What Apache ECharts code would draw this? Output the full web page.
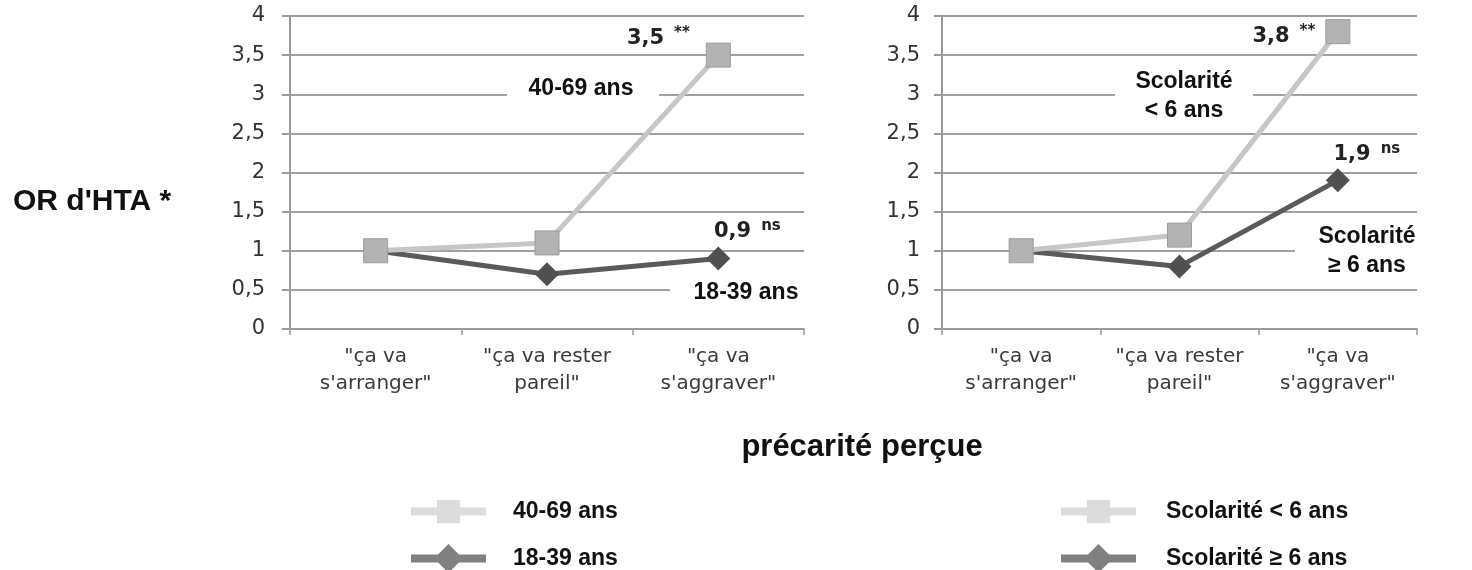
<!DOCTYPE html>
<html><head><meta charset="utf-8">
<script src="https://cdn.jsdelivr.net/npm/echarts@6/dist/echarts.min.js"></script>
<style>html,body{margin:0;padding:0;background:#fff}#c{width:1472px;height:570px}</style>
</head><body><div id="c"></div>
<script>
const categories = ['"ça va\ns\'arranger"', '"ça va rester\npareil"', '"ça va\ns\'aggraver"'];
const age40_69 = [1, 1.1, 3.5];
const age18_39 = [1, 0.7, 0.9];
const scolLt6 = [1, 1.2, 3.8];
const scolGe6 = [1, 0.8, 1.9];
const names = ['40-69 ans', '18-39 ans', 'Scolarité < 6 ans', 'Scolarité ≥ 6 ans'];
const notes = ['**', 'ns', '**', 'ns'];
const yTitle = "OR d'HTA *";
const xTitle = 'précarité perçue';

const TICK_FONT = 'DejaVu Sans';
const BOLD = 'Liberation Sans, Arial, sans-serif';
const fmt = v => String(v).replace('.', ',');

function mkAxisX(gi) {
  return {
    type: 'category', gridIndex: gi, data: categories, boundaryGap: true,
    axisLine: {show: true, lineStyle: {color: '#9a9a9a', width: 2}},
    axisTick: {show: true, length: 6, lineStyle: {color: '#9a9a9a', width: 1.5}},
    axisLabel: {fontFamily: TICK_FONT, fontSize: 20, color: '#3a3a3a', lineHeight: 27, margin: 14, interval: 0}
  };
}
function mkAxisY(gi, margin) {
  return {
    type: 'value', gridIndex: gi, min: 0, max: 4, interval: 0.5,
    axisLine: {show: true, lineStyle: {color: '#9a9a9a', width: 2}},
    axisTick: {show: true, length: 8, lineStyle: {color: '#9a9a9a', width: 2}},
    splitLine: {show: true, lineStyle: {color: '#a0a0a0', width: 2}},
    axisLabel: {fontFamily: TICK_FONT, fontSize: 21, color: '#333', margin: margin, formatter: v => fmt(v)}
  };
}
function mkLabel(i, v, offset) {
  return {
    show: true, position: 'inside', offset: offset,
    formatter: '{v|' + fmt(v) + '}{s|' + notes[i] + '}',
    rich: {
      v: {fontFamily: TICK_FONT, fontWeight: 'bold', fontSize: 21, color: '#222', lineHeight: 26},
      s: {fontFamily: TICK_FONT, fontWeight: 'bold', fontSize: 15, color: '#222', lineHeight: 26, verticalAlign: 'top', padding: [0, 0, 8, 10]}
    }
  };
}
function mkData(vals, i, offset) {
  return vals.map((v, k) => k === vals.length - 1 ? {value: v, label: mkLabel(i, v, offset)} : v);
}
function light(name, vals, gi, i, offset) {
  return {
    name: name, type: 'line', xAxisIndex: gi, yAxisIndex: gi, z: 4,
    data: mkData(vals, i, offset),
    symbol: 'rect', symbolSize: 24,
    lineStyle: {color: '#c6c6c6', width: 5},
    itemStyle: {color: '#b3b3b3', borderColor: '#9c9c9c', borderWidth: 1},
    emphasis: {disabled: true}, animation: false
  };
}
function dark(name, vals, gi, i, offset) {
  return {
    name: name, type: 'line', xAxisIndex: gi, yAxisIndex: gi, z: 3,
    data: mkData(vals, i, offset),
    symbol: 'diamond', symbolSize: [24, 24],
    lineStyle: {color: '#5a5a5a', width: 5},
    itemStyle: {color: '#505050'},
    emphasis: {disabled: true}, animation: false
  };
}
function legendItem(left, top, name, color, ih, pad) {
  return {
    left: left, top: top, orient: 'vertical', itemWidth: 75, itemHeight: ih,
    selectedMode: false,
    textStyle: {fontFamily: BOLD, fontWeight: 'bold', fontSize: 23, color: '#111', padding: [0, 0, 0, pad]},
    data: [{name: name, itemStyle: {color: color, borderWidth: 0}, lineStyle: {color: color, width: 8}}]
  };
}
function box(x, y, w, h, text, cx, cy) {
  return [
    {type: 'rect', z: 2, shape: {x: x, y: y, width: w, height: h}, style: {fill: '#fff'}, silent: true},
    {type: 'text', z: 10, x: cx, y: cy, style: {text: text, font: 'bold 23px ' + BOLD, fill: '#111', align: 'center', verticalAlign: 'middle', lineHeight: 29}, silent: true}
  ];
}

const chart = echarts.init(document.getElementById('c'), null, {renderer: 'canvas'});
chart.setOption({
  backgroundColor: '#fff',
  animation: false,
  grid: [
    {left: 290, top: 16, width: 514, height: 313},
    {left: 942, top: 16, width: 475, height: 313}
  ],
  xAxis: [mkAxisX(0), mkAxisX(1)],
  yAxis: [mkAxisY(0, 25), mkAxisY(1, 22)],
  legend: [
    legendItem(402, 495, names[0], '#dcdcdc', 29, 22),
    legendItem(402, 539, names[1], '#808080', 36, 22),
    legendItem(1052, 495, names[2], '#dcdcdc', 29, 25),
    legendItem(1052, 539, names[3], '#808080', 36, 25)
  ],
  series: [
    dark(names[1], age18_39, 0, 1, [29, -27]),
    light(names[0], age40_69, 0, 0, [-60, -17]),
    dark(names[3], scolGe6, 1, 3, [29, -26]),
    light(names[2], scolLt6, 1, 2, [-54, 5])
  ],
  graphic: [
    {type: 'text', x: 13, y: 202, style: {text: yTitle, font: 'bold 30px ' + BOLD, fill: '#111', verticalAlign: 'middle'}},
    {type: 'text', x: 862, y: 447, style: {text: xTitle, font: 'bold 31px ' + BOLD, fill: '#111', align: 'center', verticalAlign: 'middle'}},
    ...box(507, 62, 152, 56, '40-69 ans', 581, 89),
    ...box(670, 270, 134, 44, '18-39 ans', 746, 293),
    ...box(1115, 58, 138, 70, 'Scolarité\n< 6 ans', 1184, 96),
    ...box(1295, 213, 123, 72, 'Scolarité\n≥ 6 ans', 1367, 251)
  ]
});
</script></body></html>
